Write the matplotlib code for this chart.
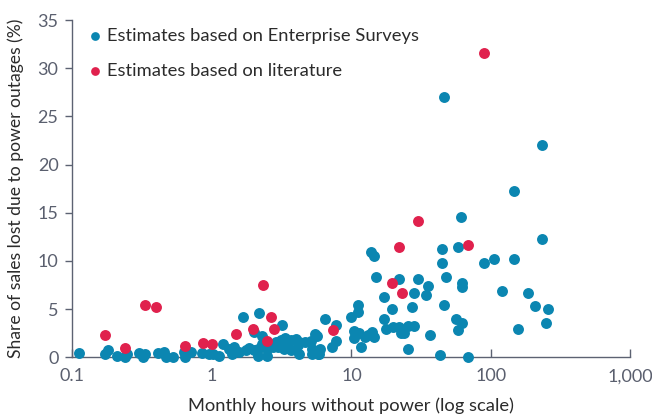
import numpy as np
from matplotlib import pyplot as plt
from matplotlib.ticker import FixedLocator, NullLocator

BLUE = "#0b86b1"
RED = "#e0214d"
AXIS = "#5c6272"
TEXT = "#2b2b2b"

# Enterprise Surveys estimates: monthly hours without power, share of sales lost (%)
survey_hours = [
    0.112, 0.17, 0.18, 0.21, 0.24, 0.245, 0.30, 0.33, 0.32, 0.41, 0.45, 0.47,
    0.53, 0.63, 0.64, 0.71, 0.85, 0.95,
    1.02, 1.12, 1.2, 1.33, 1.43, 1.4, 1.56, 1.75, 1.85, 1.99, 2.15, 2.3, 2.13,
    2.49, 2.49, 2.75, 2.9, 2.97, 3.14, 3.35, 3.5, 3.66, 3.28, 3.66, 3.99, 4.13,
    4.22, 4.61, 5.1, 5.2, 5.5, 5.7, 5.75, 6.0, 1.67, 2.18, 3.17, 2.0, 2.27,
    6.5, 7.7, 7.3, 7.8, 4.2, 5.2, 5.9,
    10.0, 11.2, 11.2, 10.4, 10.4, 11.4, 12.5, 14.1, 14.4, 11.8, 13.1, 13.9,
    14.5, 14.9, 17.0, 19.4, 17.0, 17.7, 19.8, 21.8, 23.9, 25.5, 28.3, 22.0,
    29.8, 27.9, 27.0, 34.0, 35.2, 36.3, 25.3, 43.0, 44.9, 44.9, 47.5, 45.9,
    46.1, 56.0, 58.0, 58.0, 61.5, 62.0, 62.0, 62.0, 68.0, 22.8,
    89.0, 105.0, 146.0, 120.0, 185.0, 206.0, 257.0, 248.0, 156.0, 234.0,
    234.0, 146.0,
]
survey_loss = [
    0.45, 0.38, 0.73, 0.17, 0.0, 0.38, 0.45, 0.38, 0.05, 0.45, 0.58, 0.05,
    0.0, 0.52, 0.05, 0.58, 0.45, 0.3,
    0.38, 0.1, 1.35, 0.86, 1.07, 0.38, 0.58, 0.73, 0.93, 0.73, 0.86, 1.42, 0.17,
    0.86, 0.17, 1.07, 1.62, 1.07, 1.77, 1.97, 1.62, 1.77, 0.86, 0.73, 1.9, 1.24,
    0.38, 1.62, 1.7, 0.86, 2.45, 2.2, 0.38, 0.86, 4.2, 4.6, 3.35, 2.6, 2.2,
    4.0, 3.35, 1.07, 1.7, 1.6, 0.3, 0.3,
    4.2, 5.4, 4.7, 2.7, 2.0, 2.5, 2.1, 2.6, 2.1, 1.1, 2.3, 10.9,
    10.5, 8.3, 6.3, 5.0, 4.0, 2.9, 3.2, 3.1, 2.5, 3.3, 3.3, 8.1,
    8.1, 6.7, 5.2, 6.5, 7.4, 2.3, 0.9, 0.25, 11.2, 9.8, 8.3, 5.4,
    27.0, 4.0, 11.5, 2.8, 14.6, 7.7, 7.3, 3.6, 0.05, 2.5,
    9.8, 10.2, 10.2, 6.9, 6.7, 5.3, 5.0, 3.6, 2.9, 12.3,
    22.05, 17.3,
]

# Literature-based estimates
lit_hours = [
    89.0, 29.8, 68.0, 22.0, 19.4, 22.9, 7.4, 2.33, 0.33, 0.40, 0.17, 0.237,
    0.64, 0.86, 1.0, 1.5, 1.97, 2.65, 2.78, 2.49,
]
lit_loss = [
    31.6, 14.1, 11.7, 11.5, 7.7, 6.7, 2.8, 7.5, 5.4, 5.2, 2.3, 1.0,
    1.2, 1.45, 1.35, 2.4, 2.9, 4.2, 2.9, 1.7,
]

x_ticks = [0.1, 1, 10, 100, 1000]
x_ticklabels = ["0.1", "1", "10", "100", "1,000"]
y_ticks = [0, 5, 10, 15, 20, 25, 30, 35]

plt.rcParams["font.family"] = ["Lato", "DejaVu Sans"]

fig = plt.figure(figsize=(6.52, 4.17), dpi=100)
ax = fig.add_axes([0.111, 0.143, 0.856, 0.809])

ax.scatter(survey_hours, survey_loss, s=62, color=BLUE, linewidths=0,
           zorder=3, clip_on=False, label="Estimates based on Enterprise Surveys")
ax.scatter(lit_hours, lit_loss, s=62, color=RED, linewidths=0,
           zorder=4, clip_on=False, label="Estimates based on literature")

ax.set_xscale("log")
ax.set_xlim(0.1, 1000)
ax.set_ylim(0, 35)
ax.xaxis.set_major_locator(FixedLocator(x_ticks))
ax.xaxis.set_minor_locator(NullLocator())
ax.set_xticklabels(x_ticklabels)
ax.set_yticks(y_ticks)

for side in ("top", "right"):
    ax.spines[side].set_visible(False)
for side in ("left", "bottom"):
    ax.spines[side].set_color(AXIS)
    ax.spines[side].set_linewidth(1.0)

ax.tick_params(axis="x", direction="in", length=6, color=AXIS, width=1.0,
               labelsize=13, labelcolor="#5a5f6e", pad=8)
ax.tick_params(axis="y", direction="out", length=5, color=AXIS, width=1.0,
               labelsize=13, labelcolor="#5a5f6e", pad=5)

ax.set_xlabel("Monthly hours without power (log scale)", fontsize=13.2,
              color=TEXT, labelpad=9)
ax.set_ylabel("Share of sales lost due to power outages (%)", fontsize=12.6,
              color=TEXT, labelpad=10)

leg = ax.legend(loc="upper left", bbox_to_anchor=(-0.002, 1.013), frameon=False,
                fontsize=13.2, handletextpad=0.0, labelspacing=1.05,
                markerscale=0.8, borderaxespad=0.25, handlelength=1.3)
for t in leg.get_texts():
    t.set_color(TEXT)

fig.savefig("out.png", facecolor="white")
